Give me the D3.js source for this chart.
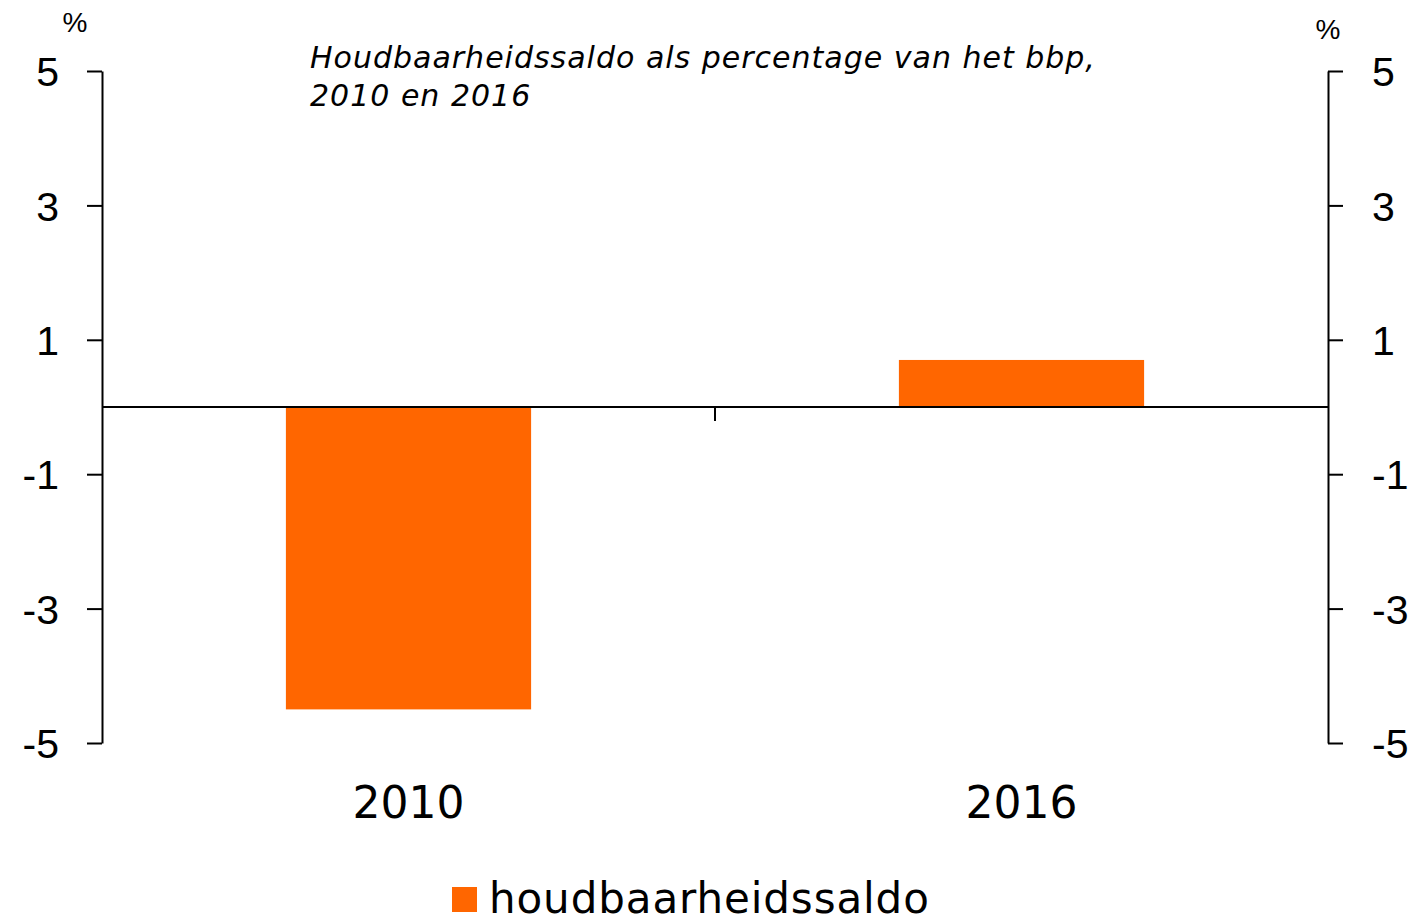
<!DOCTYPE html>
<html>
<head>
<meta charset="utf-8">
<script src="https://cdn.jsdelivr.net/npm/d3@7"></script>
<style>
  body { margin: 0; background: #fff; }
  svg { display: block; }
</style>
</head>
<body>
<div id="chart"></div>
<script>
// data
let categories = ["2010", "2016"];
let values = [-4.5, 0.7];
let yTicks = [5, 3, 1, -1, -3, -5];
let seriesName = "houdbaarheidssaldo";
let title = ["Houdbaarheidssaldo als percentage van het bbp,", "2010 en 2016"];

let width = 1421, height = 921;
let plotLeft = 102, plotRight = 1328, plotTop = 71, plotBottom = 743;

let svg = d3.select("#chart").append("svg")
    .attr("width", width)
    .attr("height", height);

let y = d3.scaleLinear().domain([-5, 5]).range([plotBottom, plotTop]);
let x = d3.scaleBand().domain(categories).range([plotLeft, plotRight]).paddingInner(0.6).paddingOuter(0.3);

// bars
svg.selectAll("rect.bar")
    .data(values)
    .enter().append("rect")
    .attr("class", "bar")
    .attr("x", (d, i) => x(categories[i]))
    .attr("width", x.bandwidth())
    .attr("y", d => y(Math.max(0, d)))
    .attr("height", d => Math.abs(y(d) - y(0)))
    .attr("fill", "#ff6600");

// left axis
let leftAxis = svg.append("g")
    .attr("transform", "translate(" + plotLeft + ",0)")
    .call(d3.axisLeft(y).tickValues(yTicks).tickSize(15).tickSizeOuter(0).tickPadding(28).tickFormat(d => String(d)));

// right axis
let rightAxis = svg.append("g")
    .attr("transform", "translate(" + plotRight + ",0)")
    .call(d3.axisRight(y).tickValues(yTicks).tickSize(15).tickSizeOuter(0).tickPadding(29).tickFormat(d => String(d)));

[leftAxis, rightAxis].forEach(g => {
    g.select(".domain").attr("stroke", "#000").attr("stroke-width", 2);
    g.selectAll(".tick line").attr("stroke", "#000").attr("stroke-width", 2);
    g.selectAll(".tick text")
        .attr("fill", "#000")
        .style("font-family", "'Liberation Sans', Arial, sans-serif")
        .style("font-size", "41px")
        .attr("dy", "0.36em");
});

// zero line
svg.append("line")
    .attr("x1", plotLeft).attr("x2", plotRight)
    .attr("y1", y(0)).attr("y2", y(0))
    .attr("stroke", "#000").attr("stroke-width", 2);

// tick between categories
let mid = (x(categories[0]) + x.bandwidth() + x(categories[1])) / 2;
svg.append("line")
    .attr("x1", mid).attr("x2", mid)
    .attr("y1", y(0)).attr("y2", y(0) + 14)
    .attr("stroke", "#000").attr("stroke-width", 2);

// category labels
svg.selectAll("text.cat")
    .data(categories)
    .enter().append("text")
    .attr("class", "cat")
    .attr("x", d => x(d) + x.bandwidth() / 2)
    .attr("y", 818)
    .attr("text-anchor", "middle")
    .style("font-family", "'DejaVu Sans', Verdana, sans-serif")
    .style("font-size", "44px")
    .text(d => d);

// % units
svg.append("text")
    .attr("x", 75).attr("y", 32)
    .attr("text-anchor", "middle")
    .style("font-family", "'Liberation Sans', Arial, sans-serif")
    .style("font-size", "28px")
    .text("%");
svg.append("text")
    .attr("x", 1328).attr("y", 39)
    .attr("text-anchor", "middle")
    .style("font-family", "'Liberation Sans', Arial, sans-serif")
    .style("font-size", "28px")
    .text("%");

// title
svg.selectAll("text.title")
    .data(title)
    .enter().append("text")
    .attr("class", "title")
    .attr("x", 310)
    .attr("y", (d, i) => 68 + i * 38)
    .style("font-family", "'DejaVu Sans', Verdana, sans-serif")
    .style("font-style", "italic")
    .style("font-size", "30px")
    .style("letter-spacing", "1px")
    .text(d => d);

// legend
svg.append("rect")
    .attr("x", 452).attr("y", 887)
    .attr("width", 25).attr("height", 25)
    .attr("fill", "#ff6600");
svg.append("text")
    .attr("x", 489).attr("y", 913)
    .style("font-family", "'DejaVu Sans', Verdana, sans-serif")
    .style("font-size", "42px")
    .style("letter-spacing", "0.9px")
    .text(seriesName);
</script>
</body>
</html>
